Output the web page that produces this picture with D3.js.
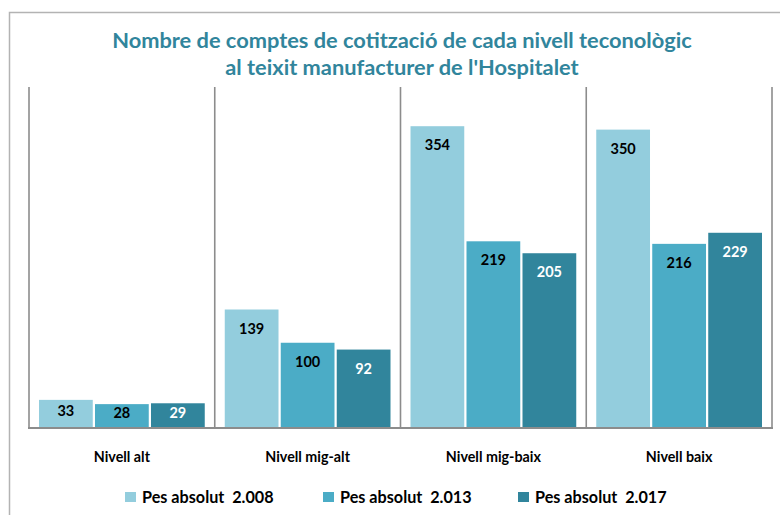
<!DOCTYPE html>
<html>
<head>
<meta charset="utf-8">
<script src="https://cdn.jsdelivr.net/npm/d3@7"></script>
<style>
  html, body { margin: 0; padding: 0; background: #fff; }
  svg { display: block; font-family: Lato, "Open Sans", sans-serif; }
</style>
</head>
<body>
<svg id="chart" width="780" height="515"></svg>
<script>
const titleLines = ["Nombre de comptes de cotització de cada nivell teconològic", "al teixit manufacturer de l'Hospitalet"];
const categories = ["Nivell alt", "Nivell mig-alt", "Nivell mig-baix", "Nivell baix"];
const seriesNames = ["Pes absolut  2.008", "Pes absolut  2.013", "Pes absolut  2.017"];
const values2008 = [33, 139, 354, 350];
const values2013 = [28, 100, 219, 216];
const values2017 = [29, 92, 205, 229];
const seriesColors = ["#93CDDD", "#4BACC6", "#31859C"];
const labelColors = ["#000000", "#000000", "#ffffff"];

(function () {
const series = [values2008, values2013, values2017];
const svg = d3.select("#chart");

// outer frame
svg.append("path")
  .attr("d", "M9.5,520 L9.5,12.5 L790,12.5")
  .attr("fill", "none").attr("stroke", "#b3b3b3").attr("stroke-width", 1.5);

const pLeft = 29, pRight = 772, pTop = 87, pBottom = 428;
const x0 = d3.scaleBand().domain(categories).range([pLeft, pRight]).paddingInner(0).paddingOuter(0);
const x1 = d3.scaleBand().domain(d3.range(series.length)).range([10, x0.bandwidth() - 10]).paddingInner(0.04);
const y = d3.scaleLinear().domain([0, 400]).range([pBottom, pTop]);

// title
const title = svg.append("text")
  .attr("text-anchor", "middle")
  .attr("fill", "#31859C")
  .attr("font-weight", "bold")
  .attr("font-size", 21.8);
titleLines.forEach((t, i) => {
  title.append("tspan").attr("x", 402).attr("y", 48 + i * 27).text(t);
});

// bars
const groups = svg.append("g").selectAll("g")
  .data(categories)
  .join("g")
  .attr("transform", d => `translate(${x0(d)},0)`);

groups.selectAll("rect")
  .data((d, ci) => series.map((s, si) => ({si, v: s[ci]})))
  .join("rect")
  .attr("x", d => x1(d.si))
  .attr("width", x1.bandwidth())
  .attr("y", d => y(d.v))
  .attr("height", d => y(0) - y(d.v))
  .attr("fill", d => seriesColors[d.si]);

groups.selectAll("text")
  .data((d, ci) => series.map((s, si) => ({si, v: s[ci]})))
  .join("text")
  .attr("x", d => x1(d.si) + x1.bandwidth() / 2)
  .attr("y", d => {
    const h = y(0) - y(d.v);
    return y(d.v) + Math.min(19, h / 2 - 3) + 5;
  })
  .attr("text-anchor", "middle")
  .attr("font-weight", "bold")
  .attr("font-size", 14.5)
  .attr("fill", d => labelColors[d.si])
  .text(d => d.v);

// separators
const seps = categories.map(c => x0(c)).concat([pRight]);
svg.append("g").selectAll("line")
  .data(seps)
  .join("line")
  .attr("x1", d => d).attr("x2", d => d)
  .attr("y1", pTop).attr("y2", pBottom)
  .attr("stroke", "#8c8c8c").attr("stroke-width", 1.6);

// baseline
svg.append("line")
  .attr("x1", pLeft - 1).attr("x2", pRight + 1)
  .attr("y1", pBottom).attr("y2", pBottom)
  .attr("stroke", "#8c8c8c").attr("stroke-width", 2);

// category labels
svg.append("g").selectAll("text")
  .data(categories)
  .join("text")
  .attr("x", d => x0(d) + x0.bandwidth() / 2)
  .attr("y", 462)
  .attr("text-anchor", "middle")
  .attr("font-weight", "bold")
  .attr("font-size", 14.3)
  .attr("fill", "#000")
  .text(d => d);

// legend
const legendX = [125, 323, 518];
const lg = svg.append("g").selectAll("g")
  .data(seriesNames)
  .join("g")
  .attr("transform", (d, i) => `translate(${legendX[i]},492)`);
lg.append("rect").attr("width", 11).attr("height", 10).attr("fill", (d, i) => seriesColors[i]);
lg.append("text")
  .attr("x", 17).attr("y", 10.5)
  .attr("font-weight", "bold")
  .attr("font-size", 16.2)
  .attr("fill", "#000")
  .style("white-space", "pre")
  .text(d => d);
})();
</script>
</body>
</html>
